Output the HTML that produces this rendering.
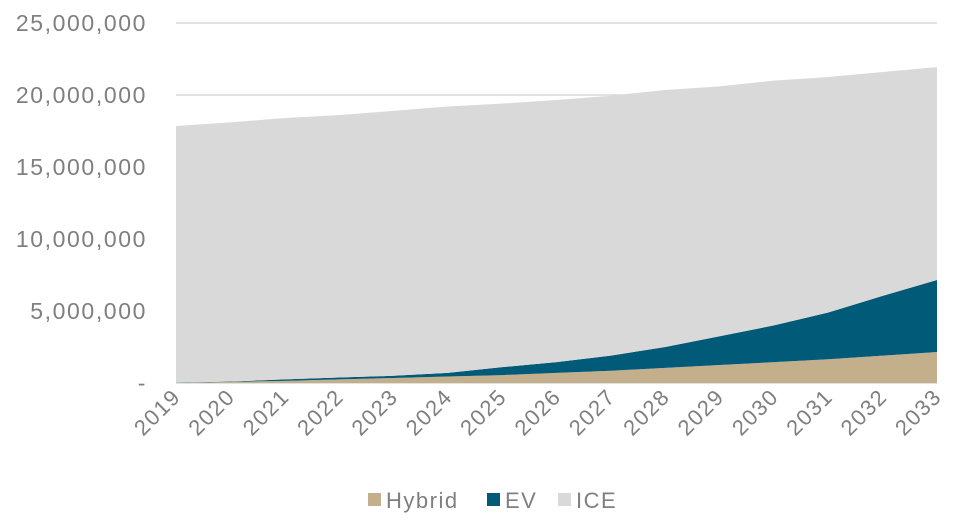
<!DOCTYPE html>
<html><head><meta charset="utf-8"><style>
body{margin:0;background:#fff;}
svg text{font-family:"Liberation Sans",sans-serif;fill:#7f7f7f;}
</style></head><body>
<svg width="955" height="527">
<g id="grid"></g><g id="areas"></g><g id="ylab"></g><g id="xlab"></g>
<g>
<rect x="368" y="493" width="13" height="13" fill="#c3af8b"/>
<text x="386" y="508" font-size="22" letter-spacing="1.5">Hybrid</text>
<rect x="487" y="493" width="13" height="13" fill="#005a78"/>
<text x="505" y="508" font-size="22" letter-spacing="1.5">EV</text>
<rect x="558" y="493" width="13" height="13" fill="#d9d9d9"/>
<text x="576" y="508" font-size="22" letter-spacing="1.5">ICE</text>
</g>
</svg>
<script>
const years=[2019,2020,2021,2022,2023,2024,2025,2026,2027,2028,2029,2030,2031,2032,2033];
const hybrid=[0,0.08,0.15,0.25,0.35,0.45,0.55,0.7,0.85,1.05,1.25,1.45,1.65,1.9,2.15];
const ev=[0.02,0.02,0.1,0.13,0.15,0.25,0.55,0.75,1.05,1.45,2.0,2.55,3.25,4.15,5.0];
const totals=[17.85,18.1,18.4,18.6,18.9,19.2,19.4,19.65,19.95,20.35,20.6,21.0,21.25,21.6,21.94];
const ice=totals.map((t,i)=>t-hybrid[i]-ev[i]);
const yTicks=[0,5,10,15,20,25];
const yTickLabels=["-","5,000,000","10,000,000","15,000,000","20,000,000","25,000,000"];
const NS="http://www.w3.org/2000/svg";
const x=i=>176+i*(937-176)/(years.length-1);
const y=v=>383-v*14.4;
function mk(t,a,p){const e=document.createElementNS(NS,t);for(const k in a)e.setAttribute(k,a[k]);p.appendChild(e);return e;}
const grid=document.getElementById('grid'),areas=document.getElementById('areas'),yl=document.getElementById('ylab'),xl=document.getElementById('xlab');
yTicks.forEach((v,i)=>{
 const l=mk('line',{x1:176,x2:937,y1:y(v),y2:y(v),stroke:'#d9d9d9','stroke-width':1.5},grid);
 
 
 const t=mk('text',{x:147,y:y(v)+8,'text-anchor':'end','font-size':23,'letter-spacing':1.6},yl);
 t.textContent=yTickLabels[i];
 
 
});
const series=[[hybrid,'#c3af8b','area-hybrid'],[ev,'#005a78','area-ev'],[ice,'#d9d9d9','area-ice']];
let base=years.map(()=>0);
series.forEach(([d,c,n])=>{
 const top=base.map((b,i)=>b+d[i]);
 let pts=top.map((v,i)=>x(i)+','+y(v));
 for(let i=years.length-1;i>=0;i--)pts.push(x(i)+','+y(base[i]));
 const p=mk('polygon',{points:pts.join(' '),fill:c},areas);
 
 
 base=top;
});
years.forEach((yr,i)=>{
 const t=mk('text',{x:x(i)+6,y:398,'text-anchor':'end','font-size':22,'letter-spacing':1.5,transform:`rotate(-45 ${x(i)+6} 398)`},xl);
 t.textContent=yr;
 
 
});
</script>
</body></html>
